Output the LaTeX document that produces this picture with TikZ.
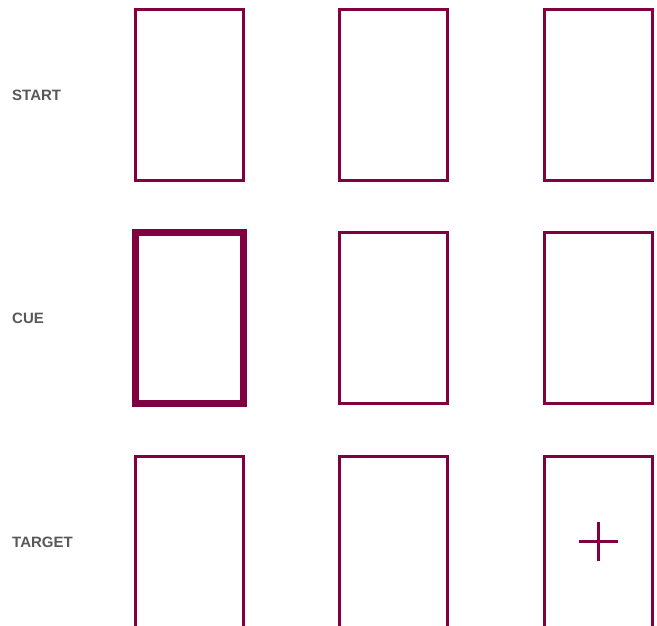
\documentclass[tikz,border=0pt]{standalone}
\usepackage{fontspec}
\setmainfont{Liberation Sans}
\usepackage{tikz}
\usetikzlibrary{positioning}
\usepackage{xcolor}
\definecolor{wine}{RGB}{128,0,64}
\definecolor{labelgray}{RGB}{88,88,88}

\begin{document}
\begin{tikzpicture}[x=1pt,y=-1pt,
  frame/.style={rectangle,draw=wine,line width=3pt,minimum width=108pt,
    minimum height=171pt,inner sep=0pt},
  cued/.style={frame,line width=7pt},
  rowlabel/.style={anchor=west,inner sep=0pt,font=\bfseries\fontsize{15}{17}\selectfont,
    text=labelgray}
]
\useasboundingbox (0,0) rectangle (657,625);
\clip (0,0) rectangle (657,625);

% Row labels
\node[rowlabel] (lstart) at (12,95.5) {START};
\node[rowlabel] (lcue) at (12,318.5) {CUE};
\node[rowlabel] (ltarget) at (12,542) {TARGET};

% Start
\node[frame] (s1) at (189,94.5) {};
\node[frame] (s2) at (393.5,94.5) {};
\node[frame] (s3) at (598,94.5) {};

% Cue: left box thickened
\node[cued] (c1) at (189,318) {};
\node[frame] (c2) at (393.5,318) {};
\node[frame] (c3) at (598,318) {};

% Target: plus in right box
\node[frame] (t1) at (189,541.5) {};
\node[frame] (t2) at (393.5,541.5) {};
\node[frame] (t3) at (598,541.5) {};
\draw[wine,line width=3pt] ([xshift=-19.5pt]t3.center) -- ([xshift=19.5pt]t3.center)
  ([yshift=-19.5pt]t3.center) -- ([yshift=19.5pt]t3.center);

\end{tikzpicture}
\end{document}
